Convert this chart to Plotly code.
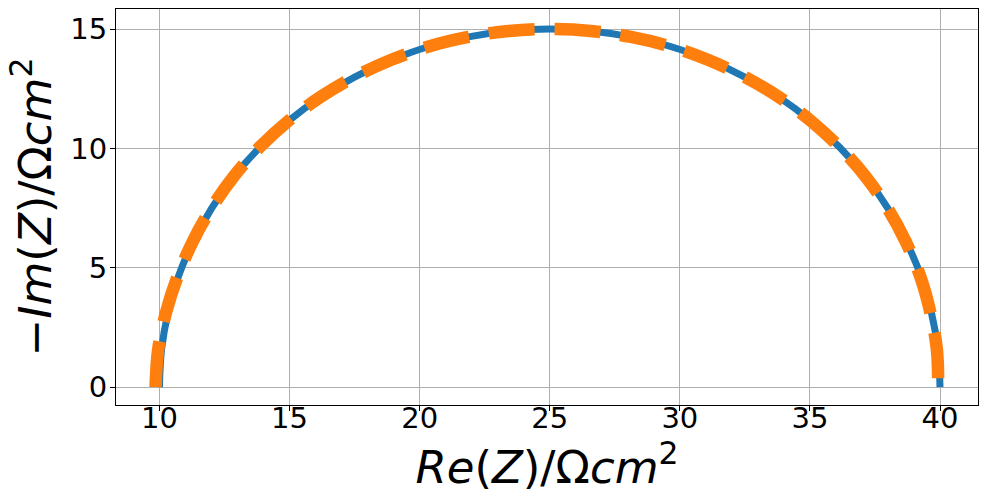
import plotly.graph_objects as go

# Blue series (measured)
re_blue = [10.00, 10.08, 10.33, 10.73, 11.30, 12.01, 12.86, 13.85, 14.96, 16.18, 17.50,
           18.90, 20.36, 21.88, 23.43, 25.00, 26.57, 28.12, 29.64, 31.10, 32.50,
           33.82, 35.04, 36.15, 37.14, 37.99, 38.70, 39.27, 39.67, 39.92, 40.00]
im_blue = [0.00, 1.57, 3.12, 4.64, 6.10, 7.50, 8.82, 10.04, 11.15, 12.14, 12.99,
           13.70, 14.27, 14.67, 14.92, 15.00, 14.92, 14.67, 14.27, 13.70, 12.99,
           12.14, 11.15, 10.04, 8.82, 7.50, 6.10, 4.64, 3.12, 1.57, 0.00]

# Orange series (dashed)
re_orange = [9.85, 9.95, 10.25, 10.70, 11.28, 12.00, 12.85, 13.84, 14.95, 16.17, 17.49,
             18.89, 20.35, 21.87, 23.43, 25.00, 26.57, 28.12, 29.64, 31.10, 32.50,
             33.82, 35.04, 36.15, 37.14, 37.98, 38.68, 39.24, 39.63, 39.88, 39.93]
im_orange = [0.00, 1.57, 3.12, 4.64, 6.10, 7.50, 8.82, 10.04, 11.15, 12.14, 12.99,
             13.70, 14.27, 14.67, 14.92, 15.00, 14.92, 14.67, 14.27, 13.70, 12.99,
             12.14, 11.15, 10.04, 8.82, 7.50, 6.10, 4.64, 3.12, 1.57, 0.00]

x_ticks = [10, 15, 20, 25, 30, 35, 40]
y_ticks = [0, 5, 10, 15]

FONT = "DejaVu Sans"

fig = go.Figure()
fig.add_trace(go.Scatter(x=re_blue, y=im_blue, mode="lines", line_shape="spline",
                         line=dict(color="#1f77b4", width=7), showlegend=False))
fig.add_trace(go.Scatter(x=re_orange, y=im_orange, mode="lines", line_shape="spline",
                         line=dict(color="#ff7f0e", width=12.5, dash="46px,20px"),
                         showlegend=False))

axis_common = dict(showline=True, mirror=True, linecolor="black", linewidth=1,
                   ticks="outside", ticklen=5, tickwidth=1, tickcolor="black",
                   showgrid=True, gridcolor="#b0b0b0", gridwidth=1, zeroline=False,
                   automargin=False,
                   tickfont=dict(family=FONT, size=29, color="black"))

fig.update_xaxes(range=[8.33, 41.46], tickvals=x_ticks, **axis_common,
                 ticklabelstandoff=-18,
                 title=dict(text="<i>Re</i>(<i>Z</i>)/Ω<i>cm</i><sup>2</sup>",
                            font=dict(family=FONT, size=45, color="black"), standoff=4))
fig.update_yaxes(range=[-0.75, 15.84], tickvals=y_ticks, **axis_common,
                 ticklabelstandoff=-3,
                 title=dict(text="−<i>Im</i>(<i>Z</i>)/Ω<i>cm</i><sup>2</sup>",
                            font=dict(family=FONT, size=45, color="black"), standoff=4))

fig.update_layout(width=981, height=494, margin=dict(l=116, r=3, t=9, b=89, autoexpand=False),
                  paper_bgcolor="white", plot_bgcolor="white")

fig.write_html("out.html", config={"displayModeBar": False},
               post_script="document.body.style.margin='0';document.body.style.overflow='hidden';")
